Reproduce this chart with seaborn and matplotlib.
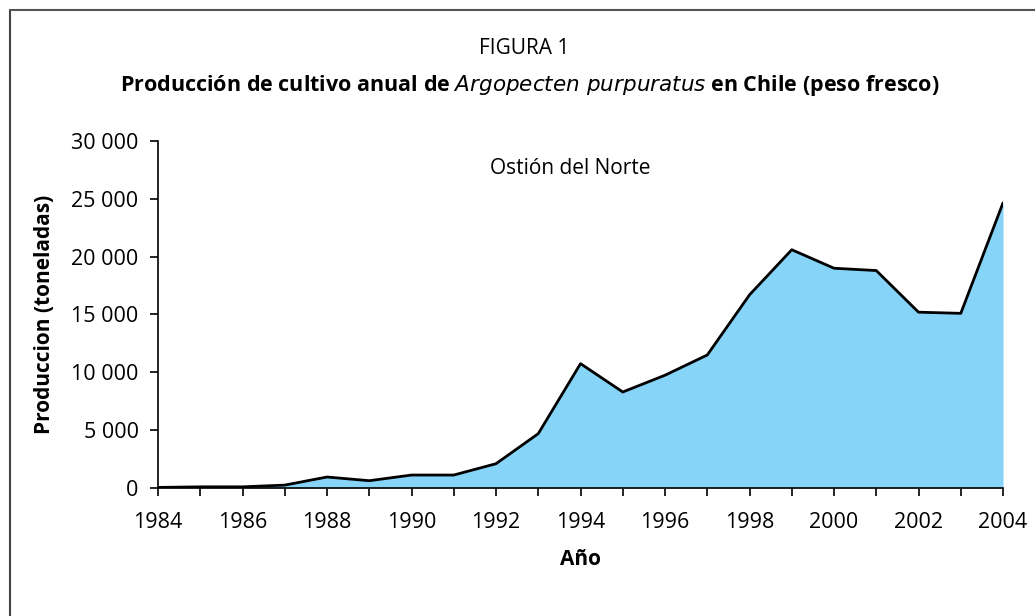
import pandas as pd
import seaborn as sns
import matplotlib.pyplot as plt
from matplotlib.ticker import FuncFormatter, MultipleLocator
from matplotlib.lines import Line2D

# Annual production (tonnes, fresh weight)
years = list(range(1984, 2005))
production = [50, 100, 100, 250, 950, 630, 1120, 1120, 2100, 4700, 10750,
              8300, 9750, 11500, 16700, 20600, 19000, 18800, 15200, 15100, 24650]

df = pd.DataFrame({'year': years, 'production': production})

sns.set_style('ticks')
plt.rcParams['font.family'] = ['Open Sans', 'DejaVu Sans']
plt.rcParams['text.color'] = 'black'
plt.rcParams['axes.labelcolor'] = 'black'

fig = plt.figure(figsize=(10.35, 6.16), dpi=100)
ax = fig.add_axes([0.1527, 0.2078, 0.8164, 0.5633])

# Filled area with black outline
ax.fill_between(df['year'], df['production'], color='#86D5F8', lw=0)
sns.lineplot(data=df, x='year', y='production', color='black', lw=2, ax=ax)

ax.set_xlim(1984, 2004)
ax.set_ylim(0, 30000)
ax.xaxis.set_major_locator(MultipleLocator(2))
ax.xaxis.set_minor_locator(MultipleLocator(1))
ax.yaxis.set_major_locator(MultipleLocator(5000))
ax.yaxis.set_major_formatter(FuncFormatter(lambda v, p: f'{int(v):,}'.replace(',', ' ')))
ax.tick_params(axis='both', which='both', direction='out', length=6, width=1.2,
               colors='black', labelsize=15.5)
ax.tick_params(axis='x', pad=11)
ax.tick_params(axis='y', pad=8)
sns.despine(ax=ax)
for s in ['left', 'bottom']:
    ax.spines[s].set_linewidth(1.2)
    ax.spines[s].set_color('black')

ax.set_xlabel('Año', fontsize=15, fontweight='bold', labelpad=12)
ax.set_ylabel('Produccion (toneladas)', fontsize=15, fontweight='bold', labelpad=12)
ax.text(0.4876, 0.922, 'Ostión del Norte', transform=ax.transAxes, ha='center',
        va='center', fontsize=15)

fig.text(0.506, 1 - 48 / 616, 'FIGURA 1', ha='center', va='center', fontsize=15)
fig.text(0.512, 1 - 85 / 616,
         r'Producción de cultivo anual de $\bf{\it{Argopecten\ purpuratus}}$ en Chile (peso fresco)',
         ha='center', va='center', fontsize=15.5, fontweight='bold')

# Frame around figure (left and top edges visible)
fig.add_artist(Line2D([10 / 1035, 10 / 1035], [0, 1 - 10 / 616], color='#444444', lw=1.5))
fig.add_artist(Line2D([10 / 1035, 1], [1 - 10 / 616, 1 - 10 / 616], color='#555555', lw=1.5))

fig.savefig('out.png', dpi=100)
